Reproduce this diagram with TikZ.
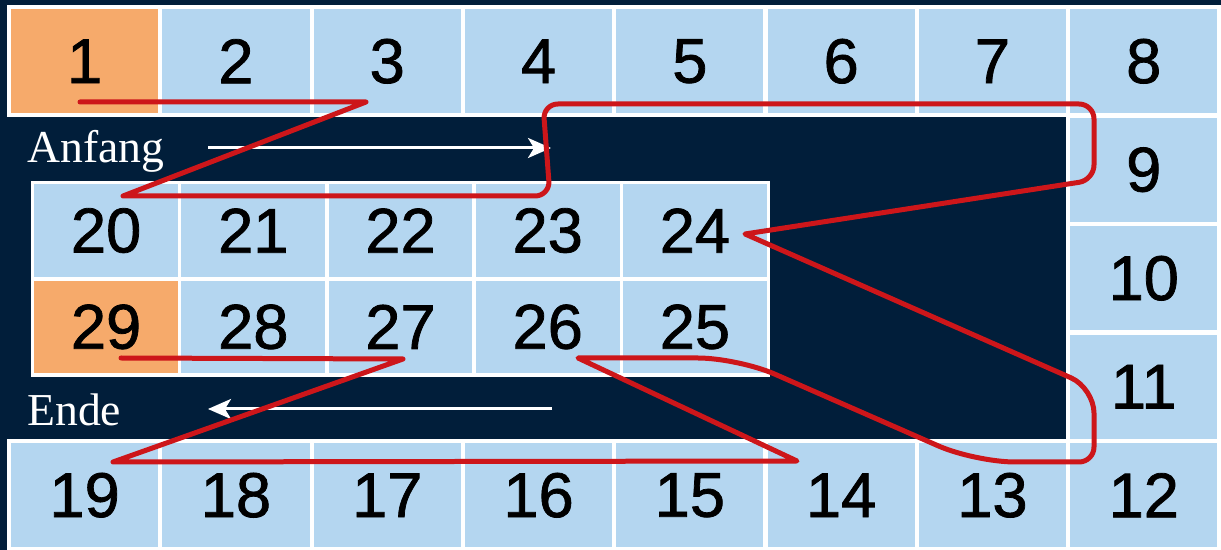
\documentclass[tikz,border=0pt]{standalone}
\usepackage{fontspec}
\setmainfont{Liberation Serif}
\newfontfamily\zahlfont[FakeBold = 1.2]{Liberation Sans}
\usetikzlibrary{arrows.meta}
\definecolor{nachtblau}{RGB}{1,30,58}
\definecolor{hellblau}{RGB}{180,214,240}
\definecolor{startorange}{RGB}{246,170,107}
\definecolor{pfadrot}{RGB}{205,22,26}

\begin{document}
\begin{tikzpicture} [x = 0.02cm, y = -0.02cm,
	zelle/.style = {draw = white, line width = 0.08cm, fill = hellblau, inner sep = 0,
		minimum width = 3.026cm, minimum height = 2.17cm, font = \zahlfont\fontsize{36}{40}\selectfont},
	innen/.style = {zelle, line width = 0.07cm, minimum width = 2.944cm, minimum height = 1.925cm},
	marke/.style = {white, anchor = base west, inner sep = 0, font = \fontsize{26}{30}\selectfont},
	pfeil/.style = {white, line width = 0.06cm, -{Stealth[length = 0.46cm, width = 0.4cm, inset = 0.12cm]}},
	pfad/.style = {pfadrot, line width = 0.1cm, line cap = round, line join = round}]
	\fill [nachtblau] (0,0) rectangle (1221,550);
	\useasboundingbox (0,0) rectangle (1221,550);
	% aeusserer Ring
	\node [zelle, fill = startorange] (c1) at (84.65,61.25) {1};
	\foreach \i in {2,...,8}
		\node [zelle] (c\i) at ({84.65 + 151.3*(\i-1)},61.25) {\i};
	\foreach \i in {9,...,12}
		\node [zelle] (c\i) at (1143.75,{61.25 + 108.5*(\i-8)}) {\i};
	\foreach \i in {13,...,19}
		\node [zelle] (c\i) at ({1143.75 - 151.3*(\i-12)},495.25) {\i};
	% innerer Block
	\foreach \i in {20,...,24}
		\node [innen] (c\i) at ({106.1 + 147.2*(\i-20)},230.6) {\i};
	\foreach \i in {25,...,28}
		\node [innen] (c\i) at ({106.1 + 147.2*(29-\i)},326.9) {\i};
	\node [innen, fill = startorange] (c29) at (106.1,326.9) {29};
	% Beschriftung
	\node [marke] (anfang) at (27,163) {Anfang};
	\node [marke] (ende) at (27,426) {Ende};
	\coordinate (anfangA) at (208,148);
	\coordinate (anfangB) at (551,148);
	\coordinate (endeA) at (552,409);
	\coordinate (endeB) at (208,409);
	\draw [pfeil] (anfangA) -- (anfangB);
	\draw [pfeil] (endeA) -- (endeB);
	% Pfad
	\draw [pfad] (80,102) -- (366,102) -- (123,196)
		[rounded corners = 0.3cm] -- (550,196) -- (543,104) -- (1094,104) -- (1094,180)
		[sharp corners] -- (745,234) [rounded corners = 0.5cm] -- (1094,388)
		[rounded corners = 0.3cm] -- (1094,462) [rounded corners = 0.8cm] -- (975,462) -- (738,358)
		[sharp corners] -- (578,358) -- (797,461) -- (113,462) -- (403,359) -- (121,358);
\end{tikzpicture}
\end{document}
